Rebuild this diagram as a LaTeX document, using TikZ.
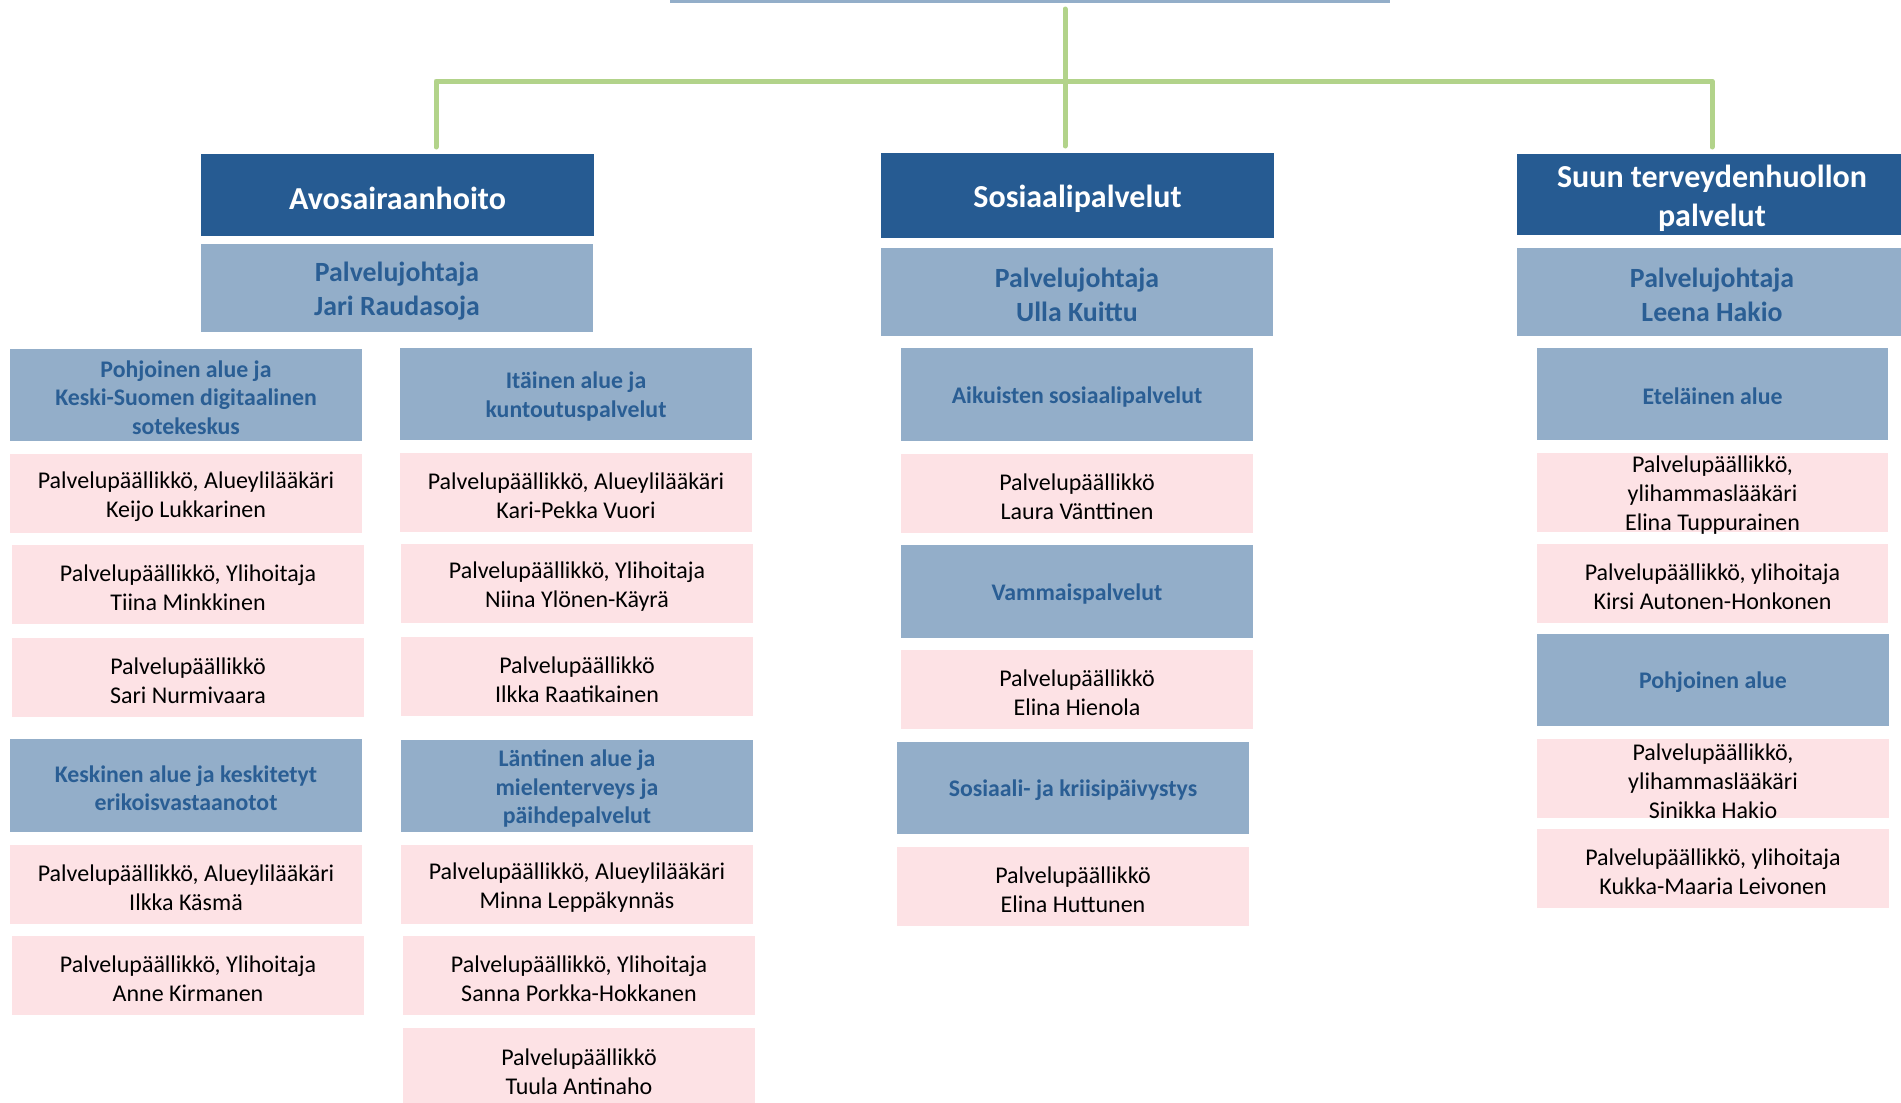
\documentclass[tikz,border=0pt]{standalone}
\usepackage{fontspec}
\setmainfont{Carlito}
\definecolor{dblue}{RGB}{38,91,146}
\definecolor{lblue}{RGB}{147,174,201}
\definecolor{pinkbg}{RGB}{253,226,229}
\definecolor{btext}{RGB}{42,94,148}
\definecolor{gline}{RGB}{178,211,138}
\tikzset{
 base/.style={inner sep=0pt, align=center, anchor=center},
 title/.style={base, fill=dblue},
 chief/.style={base, fill=lblue},
 unit/.style={base, fill=lblue},
 person/.style={base, fill=pinkbg},
 titletext/.style={base, yshift=-1.8pt, text=white, font=\fontsize{16}{19.4}\selectfont\bfseries},
 chieftext/.style={base, yshift=-1.3pt, text=btext, font=\fontsize{13.9}{17}\selectfont\bfseries},
 unittext/.style={base, yshift=-1.3pt, text=btext, font=\fontsize{11.9}{14.25}\selectfont\bfseries},
 persontext/.style={base, yshift=-1.5pt, text=black, font=\fontsize{12}{14.5}\selectfont},
 bar/.style={base, fill=lblue},
 bartext/.style={base},
 conn/.style={draw=gline, line width=2.5pt, line cap=round, line join=round}
}
\newcommand\bx[7]{\node[#6, minimum width={(#4-#2)*0.5pt}, minimum height={(#5-#3)*0.5pt}] (#1) at ({(#2+#4)/2},{(#3+#5)/2}) {};
\node[#6text] (#1-t) at (#1.center) {#7};}
\begin{document}
\begin{tikzpicture}[x=0.5pt,y=-0.5pt]
\useasboundingbox (0,0) rectangle (1901,1103);
% top
\bx{root}{670}{0}{1390}{3}{bar}{}
% main titles
\bx{avo}{201}{154}{594}{236}{title}{Avosairaanhoito}
\bx{avoj}{201}{244}{593}{332}{chief}{Palvelujohtaja\\Jari Raudasoja}
\bx{sos}{881}{153}{1274}{238}{title}{Sosiaalipalvelut}
\bx{sosj}{881}{248}{1273}{336}{chief}{Palvelujohtaja\\Ulla Kuittu}
\bx{suu}{1517}{154}{1907}{235}{title}{Suun terveydenhuollon\\palvelut}
\bx{suuj}{1517}{248}{1907}{336}{chief}{Palvelujohtaja\\Leena Hakio}
% column 1
\bx{pn}{10}{349}{362}{441}{unit}{Pohjoinen alue ja\\Keski-Suomen digitaalinen\\sotekeskus}
\bx{p1}{10}{454}{362}{533}{person}{Palvelupäällikkö, Alueylilääkäri\\Keijo Lukkarinen}
\bx{p2}{12}{545}{364}{624}{person}{Palvelupäällikkö, Ylihoitaja\\Tiina Minkkinen}
\bx{p3}{12}{638}{364}{717}{person}{Palvelupäällikkö\\Sari Nurmivaara}
\bx{ke}{10}{739}{362}{832}{unit}{Keskinen alue ja keskitetyt\\erikoisvastaanotot}
\bx{k1}{10}{845}{362}{924}{person}{Palvelupäällikkö, Alueylilääkäri\\Ilkka Käsmä}
\bx{k2}{12}{936}{364}{1015}{person}{Palvelupäällikkö, Ylihoitaja\\Anne Kirmanen}
% column 2
\bx{it}{400}{348}{752}{440}{unit}{Itäinen alue ja\\kuntoutuspalvelut}
\bx{i1}{400}{453}{752}{532}{person}{Palvelupäällikkö, Alueylilääkäri\\Kari-Pekka Vuori}
\bx{i2}{401}{544}{753}{623}{person}{Palvelupäällikkö, Ylihoitaja\\Niina Ylönen-Käyrä}
\bx{i3}{401}{637}{753}{716}{person}{Palvelupäällikkö\\Ilkka Raatikainen}
\bx{la}{401}{740}{753}{832}{unit}{Läntinen alue ja\\mielenterveys ja\\päihdepalvelut}
\bx{l1}{401}{845}{753}{924}{person}{Palvelupäällikkö, Alueylilääkäri\\Minna Leppäkynnäs}
\bx{l2}{403}{936}{755}{1015}{person}{Palvelupäällikkö, Ylihoitaja\\Sanna Porkka-Hokkanen}
\bx{l3}{403}{1028}{755}{1110}{person}{Palvelupäällikkö\\Tuula Antinaho}
% column 3
\bx{ad}{901}{348}{1253}{441}{unit}{Aikuisten sosiaalipalvelut}
\bx{a1}{901}{454}{1253}{533}{person}{Palvelupäällikkö\\Laura Vänttinen}
\bx{va}{901}{545}{1253}{638}{unit}{Vammaispalvelut}
\bx{v1}{901}{650}{1253}{729}{person}{Palvelupäällikkö\\Elina Hienola}
\bx{kr}{897}{742}{1249}{834}{unit}{Sosiaali- ja kriisipäivystys}
\bx{r1}{897}{847}{1249}{926}{person}{Palvelupäällikkö\\Elina Huttunen}
% column 4
\bx{et}{1537}{348}{1888}{440}{unit}{Eteläinen alue}
\bx{e1}{1537}{453}{1888}{532}{person}{Palvelupäällikkö,\\ylihammaslääkäri\\Elina Tuppurainen}
\bx{e2}{1537}{544}{1888}{623}{person}{Palvelupäällikkö, ylihoitaja\\Kirsi Autonen-Honkonen}
\bx{po}{1537}{634}{1889}{726}{unit}{Pohjoinen alue}
\bx{o1}{1537}{739}{1889}{818}{person}{Palvelupäällikkö,\\ylihammaslääkäri\\Sinikka Hakio}
\bx{o2}{1537}{829}{1889}{908}{person}{Palvelupäällikkö, ylihoitaja\\Kukka-Maaria Leivonen}
% connectors
\coordinate (r0) at (1065,9);
\coordinate (cs) at (1065,146);
\coordinate (ca) at (436,147);
\coordinate (ha) at (436,81);
\coordinate (hu) at (1712,81);
\coordinate (cu) at (1712,147);
\draw[conn] (r0) -- (cs);
\draw[conn] (ca) -- (ha) -- (hu) -- (cu);
\end{tikzpicture}
\end{document}
